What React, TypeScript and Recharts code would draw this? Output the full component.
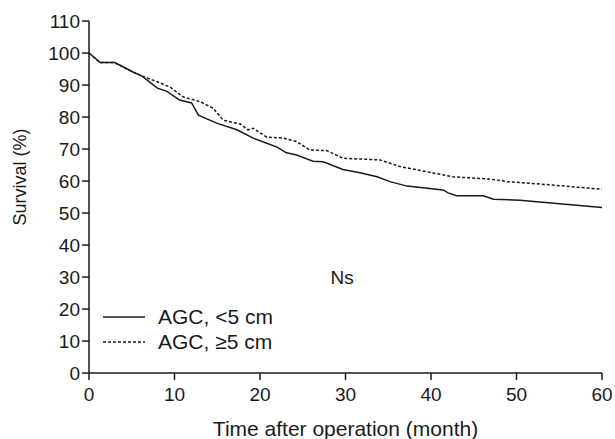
import { LineChart, Line, XAxis, YAxis, Legend, ReferenceDot } from "recharts"

// AGC < 5 cm (solid)
const smallMonths = [0, 1.3, 3, 5.2, 6.2, 8, 9.1, 10.6, 12, 12.8, 15, 17.3, 19.2, 20.8, 22, 23.1, 24.3, 26.2, 27.4, 29.7, 31.7, 33.7, 35.2, 37.2, 41.4, 42, 43, 46.1, 47.3, 50.4, 60]
const smallSurvival = [100, 97, 97, 94, 92.8, 89, 88, 85.3, 84.4, 80.6, 78, 76, 73.4, 71.8, 70.6, 68.8, 68.1, 66.2, 66, 63.6, 62.6, 61.3, 59.8, 58.4, 57.2, 56.3, 55.4, 55.4, 54.3, 54, 51.7]

// AGC >= 5 cm (dashed)
const largeMonths = [0, 1.3, 3, 5.2, 6.2, 8, 9.5, 11, 13, 14.5, 15.7, 17.7, 18.6, 19.2, 20.8, 22.7, 24.3, 25.8, 27.8, 29.7, 34, 36.4, 39.5, 42.6, 46.9, 48.9, 53.9, 60]
const largeSurvival = [100, 97, 97, 94, 92.8, 91, 89.3, 86.3, 84.8, 82.8, 79, 77.8, 76, 76.5, 73.7, 73.4, 72.3, 69.7, 69.5, 67.1, 66.6, 64.5, 62.9, 61.3, 60.6, 59.8, 58.8, 57.4]

const xTicks = [0, 10, 20, 30, 40, 50, 60]
const yTicks = [0, 10, 20, 30, 40, 50, 60, 70, 80, 90, 100, 110]

const smallData = smallMonths.map((m, i) => ({ month: m, survival: smallSurvival[i] }))
const largeData = largeMonths.map((m, i) => ({ month: m, survival: largeSurvival[i] }))

const font = "'Liberation Sans', Arial, sans-serif"
const ink = "#1a1a1a"

function LegendBox() {
  const rows = [
    { label: "AGC, <5 cm", dash: undefined },
    { label: "AGC, \u22655 cm", dash: "3 2" },
  ]
  return (
    <svg width={220} height={50} style={{ overflow: "visible" }}>
      {rows.map((r, i) => (
        <g key={r.label} transform={`translate(0, ${i * 25})`}>
          <line x1={0} x2={42} y1={12} y2={12} stroke={ink} strokeWidth={1.3} strokeDasharray={r.dash} />
          <text x={55} y={19} fontSize={21} fontFamily={font} fill={ink}>
            {r.label}
          </text>
        </g>
      ))}
    </svg>
  )
}

// rotated y-axis title, centred a little above the plot's middle as in the source
function YTitle() {
  return (
    <text x={20} y={177} transform="rotate(-90, 20, 177)" textAnchor="middle" dominantBaseline="central" fontSize={18} fontFamily={font} fill={ink}>
      Survival (%)
    </text>
  )
}

export default function App() {
  return (
    <div style={{ position: "absolute", left: 0, top: 0, background: "#fff" }}>
      <LineChart width={615} height={439} margin={{ top: 21, right: 13, bottom: 2, left: 0 }}>
        <XAxis
          type="number"
          dataKey="month"
          domain={[0, 60]}
          ticks={xTicks}
          allowDuplicatedCategory={false}
          height={64}
          stroke={ink}
          strokeWidth={1.5}
          tickSize={7}
          tickMargin={8}
          tick={{ fill: ink, fontSize: 19, fontFamily: font }}
          label={{ value: "Time after operation (month)", position: "insideBottom", offset: 1, fill: ink, fontSize: 21, fontFamily: font }}
        />
        <YAxis
          type="number"
          domain={[0, 110]}
          ticks={yTicks}
          width={89}
          stroke={ink}
          strokeWidth={1.5}
          tickSize={7}
          tickMargin={2}
          tick={{ fill: ink, fontSize: 19, fontFamily: font }}
          label={{ content: () => <YTitle /> }}
        />
        <Legend
          layout="horizontal"
          verticalAlign="middle"
          align="center"
          content={() => <LegendBox />}
          wrapperStyle={{ left: 103, top: 305, width: 220 }}
        />
        <Line data={smallData} dataKey="survival" name="AGC, <5 cm" type="linear" stroke={ink} strokeWidth={1.5} dot={false} isAnimationActive={false} />
        <Line data={largeData} dataKey="survival" name="AGC, >=5 cm" type="linear" stroke={ink} strokeWidth={1.5} strokeDasharray="3 2" dot={false} isAnimationActive={false} />
        <ReferenceDot x={29.6} y={29.8} r={0} stroke="none" label={{ value: "Ns", position: "center", fill: ink, fontSize: 19, fontFamily: font }} />
      </LineChart>
    </div>
  )
}
